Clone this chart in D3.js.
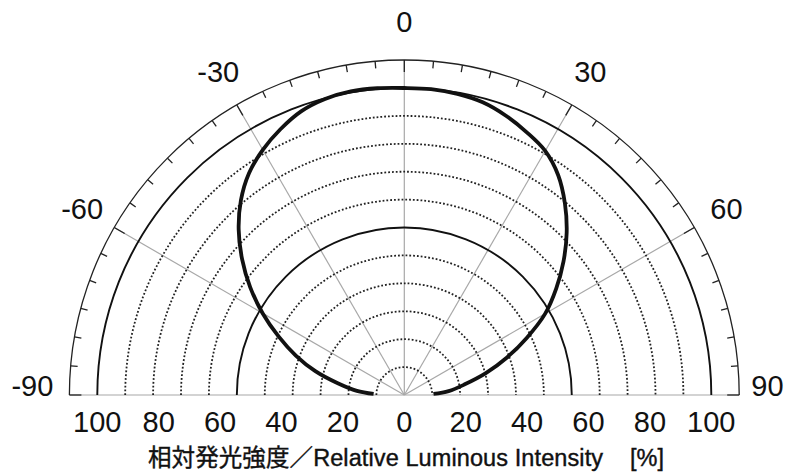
<!DOCTYPE html>
<html><head><meta charset="utf-8">
<script src="https://cdn.jsdelivr.net/npm/d3@7"></script>
<style>html,body{margin:0;padding:0;background:#fff;}</style>
</head><body>
<svg id="chart" width="787" height="474"></svg>
<script>
// ---- data ----
const curveAngles = [-88,-85,-80,-75,-70,-65,-60,-55,-50,-45,-40,-35,-30,-25,-20,-15,-10,-5,0,5,10,15,20,25,30,35,40,45,50,55,60,65,70,75,80,85,88];
const intensity   = [10,15.5,22,30,37.6,45.2,53.3,61.3,69,76.3,82.8,88.2,92.2,95.5,98.3,99.8,100.4,100.3,100,100,99.6,98.7,96.8,94.4,91.8,87.4,81.4,74.8,67.7,60.4,53,44,35.5,27.5,20,14.5,9.5];
const gridRings   = [9.09,18.18,27.27,36.36,45.45,54.55,63.64,72.73,81.82,90.91,100];
const solidRings  = [54.55,100];
const outerRing   = 109.09;
const spokeAngles = [-60,-30,0,30,60];
const angleLabels = [-90,-60,-30,0,30,60,90];
const radiusLabels = [-100,-80,-60,-40,-20,0,20,40,60,80,100];
const titleMain = "相対発光強度／Relative Luminous Intensity";
const titleUnit = "[%]";

// ---- layout ----
const cx = 404.3, cy = 395;
const svg = d3.select("#chart");
const r = d3.scaleLinear().domain([0,100]).range([0,307]);
const rad = d => d*Math.PI/180;
const px = (a, v) => cx + r(v)*Math.sin(rad(a));
const py = (a, v) => cy - r(v)*Math.cos(rad(a));
const g = svg.append("g");

function semi(rr){
  const p = d3.path();
  p.moveTo(cx - rr, cy);
  p.arc(cx, cy, rr, Math.PI, 2*Math.PI);
  return p.toString();
}

// spokes (gray)
g.selectAll(".spoke").data(spokeAngles).join("line")
  .attr("x1", cx).attr("y1", cy)
  .attr("x2", d => px(d, outerRing)).attr("y2", d => py(d, outerRing))
  .attr("stroke", "#a8a8a8").attr("stroke-width", 1.2);
g.append("line")
  .attr("x1", px(-90, outerRing)).attr("y1", cy)
  .attr("x2", px(90, outerRing)).attr("y2", cy)
  .attr("stroke", "#a8a8a8").attr("stroke-width", 1.2);

// dotted rings
g.selectAll(".ring").data(gridRings.filter(v => !solidRings.includes(v))).join("path")
  .attr("d", d => semi(r(d)))
  .attr("fill", "none").attr("stroke", "#222").attr("stroke-width", 1.8)
  .attr("stroke-dasharray", "1.8 2");

// solid rings
g.selectAll(".sring").data(solidRings).join("path")
  .attr("d", d => semi(r(d)))
  .attr("fill", "none").attr("stroke", "#111").attr("stroke-width", 1.9);

// outer ring
g.append("path").attr("d", semi(r(outerRing)))
  .attr("fill", "none").attr("stroke", "#222").attr("stroke-width", 1.3);

// ticks on outer ring
const tickAngles = d3.range(-90, 91, 5);
const tlen = d => (d % 30 === 0) ? 12 : 7;
g.selectAll(".tick").data(tickAngles).join("line")
  .attr("x1", d => px(d, outerRing)).attr("y1", d => py(d, outerRing))
  .attr("x2", d => cx + (r(outerRing)-tlen(d))*Math.sin(rad(d)))
  .attr("y2", d => cy - (r(outerRing)-tlen(d))*Math.cos(rad(d)))
  .attr("stroke", "#222").attr("stroke-width", 1.3);

// data curve
const line = d3.lineRadial()
  .angle((d,i) => rad(curveAngles[i]))
  .radius(d => r(d))
  .curve(d3.curveCatmullRom.alpha(0.5));
g.append("path")
  .attr("transform", `translate(${cx},${cy})`)
  .attr("d", line(intensity))
  .attr("fill", "none").attr("stroke", "#111").attr("stroke-width", 3.8)
  .attr("stroke-linejoin", "round");

// angle labels
const fontNum = "'Liberation Sans', Arial, sans-serif";
g.selectAll(".alab").data(angleLabels.filter(a => Math.abs(a) < 90)).join("text")
  .attr("x", d => cx + 372*Math.sin(rad(d)))
  .attr("y", d => cy - 373*Math.cos(rad(d)) + 10.4)
  .attr("text-anchor", "middle")
  .attr("font-family", fontNum).attr("font-size", 29).attr("fill", "#111")
  .text(d => d);
g.selectAll(".alab90").data(angleLabels.filter(a => Math.abs(a) === 90)).join("text")
  .attr("x", d => d > 0 ? cx + 347 : cx - 351)
  .attr("y", cy + 0.7)
  .attr("text-anchor", d => d > 0 ? "start" : "end")
  .attr("font-family", fontNum).attr("font-size", 29).attr("fill", "#111")
  .text(d => d);

// radius labels
g.selectAll(".rlab").data(radiusLabels).join("text")
  .attr("x", d => cx + (d < 0 ? -r(-d) : r(d)))
  .attr("y", 432)
  .attr("text-anchor", "middle")
  .attr("font-family", fontNum).attr("font-size", 29).attr("fill", "#111")
  .text(d => Math.abs(d));

// title
const titleFont = "'Liberation Sans', 'Noto Sans CJK JP', Arial, sans-serif";
svg.append("text")
  .attr("x", 148).attr("y", 466)
  .attr("font-family", titleFont).attr("font-size", 23.5).attr("fill", "#111")
  .attr("stroke", "#111").attr("stroke-width", 0.4)
  .attr("textLength", 455).attr("lengthAdjust", "spacing")
  .text(titleMain);
svg.append("text")
  .attr("x", 630).attr("y", 466)
  .attr("font-family", titleFont).attr("font-size", 23.5).attr("fill", "#111")
  .attr("stroke", "#111").attr("stroke-width", 0.4)
  .text(titleUnit);
</script>
</body></html>
